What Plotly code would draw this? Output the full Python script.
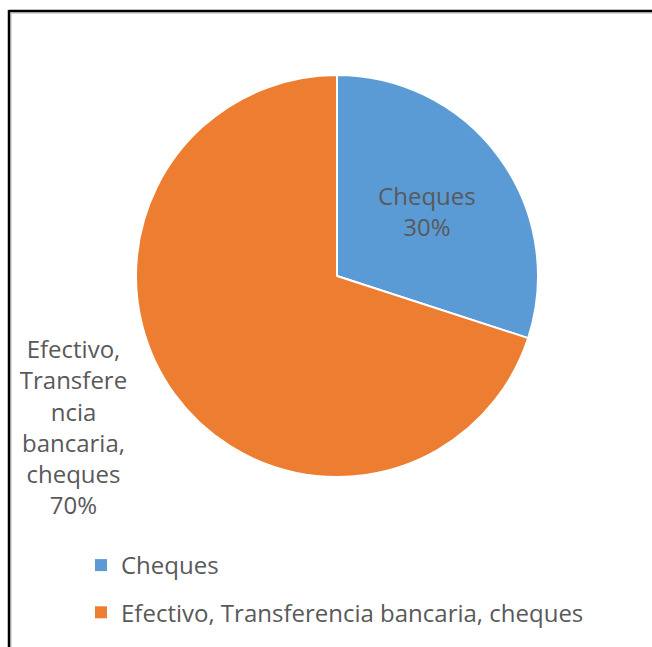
import plotly.graph_objects as go

labels = ["Cheques", "Efectivo, Transferencia bancaria, cheques"]
values = [30, 70]
colors = ["#5B9BD5", "#ED7D31"]
slice_text = ["Cheques<br>30%", "Efectivo,<br>Transfere<br>ncia<br>bancaria,<br>cheques<br>70%"]
text_positions = ["inside", "outside"]

W, H = 652, 647
FONT = "Open Sans"
FS = 24
GRAY = "#595959"

fig = go.Figure()
fig.add_trace(go.Pie(
    labels=labels, values=values, text=slice_text,
    textinfo="text", textposition=text_positions,
    insidetextorientation="horizontal",
    marker=dict(colors=colors, line=dict(color="white", width=2)),
    sort=False, direction="clockwise", rotation=0,
    domain=dict(x=[131 / W, 543 / W], y=[1 - 477 / H, 1 - 75 / H]),
    textfont=dict(family=FONT, size=FS, color=GRAY),
    showlegend=False, hoverinfo="label+percent",
))

# legend entries
for i, (lab, col) in enumerate(zip(labels, colors)):
    fig.add_trace(go.Scatter(
        x=[None], y=[None], mode="markers", name=lab,
        marker=dict(symbol="square", size=9, color=col),
        legendgroup=f"g{i}", showlegend=True,
    ))

fig.update_layout(
    width=W, height=H,
    margin=dict(l=0, r=0, t=0, b=0),
    paper_bgcolor="white", plot_bgcolor="white",
    xaxis=dict(visible=False), yaxis=dict(visible=False),
    legend=dict(
        x=81 / W, y=1 - 543 / H, xanchor="left", yanchor="top",
        orientation="v", traceorder="grouped", tracegroupgap=13,
        font=dict(family=FONT, size=FS, color=GRAY),
        itemsizing="constant", bgcolor="rgba(0,0,0,0)",
    ),
    shapes=[
        dict(type="line", xref="paper", yref="paper",
             x0=11.5 / W, x1=1.02, y0=1 - 13 / H, y1=1 - 13 / H,
             line=dict(color="#D9D9D9", width=2)),
        dict(type="line", xref="paper", yref="paper",
             x0=11 / W, x1=11 / W, y0=1 - 13 / H, y1=-0.02,
             line=dict(color="#D9D9D9", width=2)),
        dict(type="line", xref="paper", yref="paper",
             x0=9 / W, x1=1.02, y0=1 - 11 / H, y1=1 - 11 / H,
             line=dict(color="black", width=2.5)),
        dict(type="line", xref="paper", yref="paper",
             x0=9 / W, x1=9 / W, y0=1 - 10 / H, y1=-0.02,
             line=dict(color="black", width=2.5)),
    ],
)

fig.write_html("out.html")
